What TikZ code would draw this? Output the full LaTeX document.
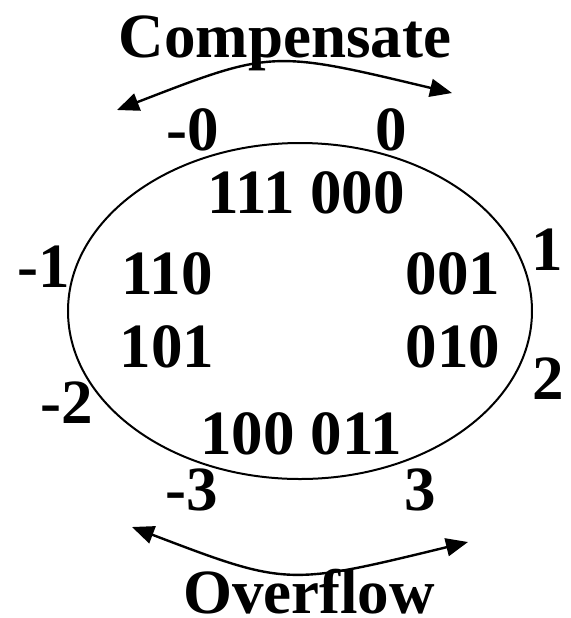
\documentclass[tikz,border=0pt]{standalone}
\usepackage{fontspec}
\setmainfont{Liberation Serif}
\usetikzlibrary{arrows.meta}
\begin{document}
\begin{tikzpicture}[x=0.5pt, y=-0.5pt,
    lbl/.style={anchor=base, inner sep=0pt, font=\fontsize{31.5}{36}\selectfont\bfseries},
    swing/.style={line width=1.2pt, {Triangle[length=11pt,width=9pt]}-{Triangle[length=11pt,width=9pt]}}]
    \useasboundingbox (0,0) rectangle (571,618);

    % 环
    \draw[line width=1pt] (300,311) ellipse [x radius=232, y radius=168];

    % 码字
    \node[lbl] (c111) at (306,213) {111 000};
    \node[lbl] (c110) at (167,294) {110};
    \node[lbl] (c001) at (453,294) {001};
    \node[lbl] (c101) at (167,367) {101};
    \node[lbl] (c010) at (453,367) {010};
    \node[lbl] (c100) at (301,454) {100 011};

    % 数值
    \node[lbl] (mz) at (193,150) {-0};
    \node[lbl] (pz) at (391,150) {0};
    \node[lbl] (m1) at (44,287) {-1};
    \node[lbl] (p1) at (547,270) {1};
    \node[lbl] (m2) at (67,423) {-2};
    \node[lbl] (p2) at (548,399) {2};
    \node[lbl] (m3) at (192,510) {-3};
    \node[lbl] (p3) at (420,510) {3};

    % 上方箭头
    \node[lbl] (comp) at (285,57) {Compensate};
    \coordinate (cl) at (117,110);
    \coordinate (cr) at (452,93);
    \draw[swing] (cl) .. controls (272,50) .. (cr);

    % 下方箭头
    \node[lbl] (ovf) at (309,613) {Overflow};
    \coordinate (ol) at (132,527);
    \coordinate (or) at (468,542);
    \draw[swing] (ol) .. controls (287,586) .. (or);
\end{tikzpicture}
\end{document}
